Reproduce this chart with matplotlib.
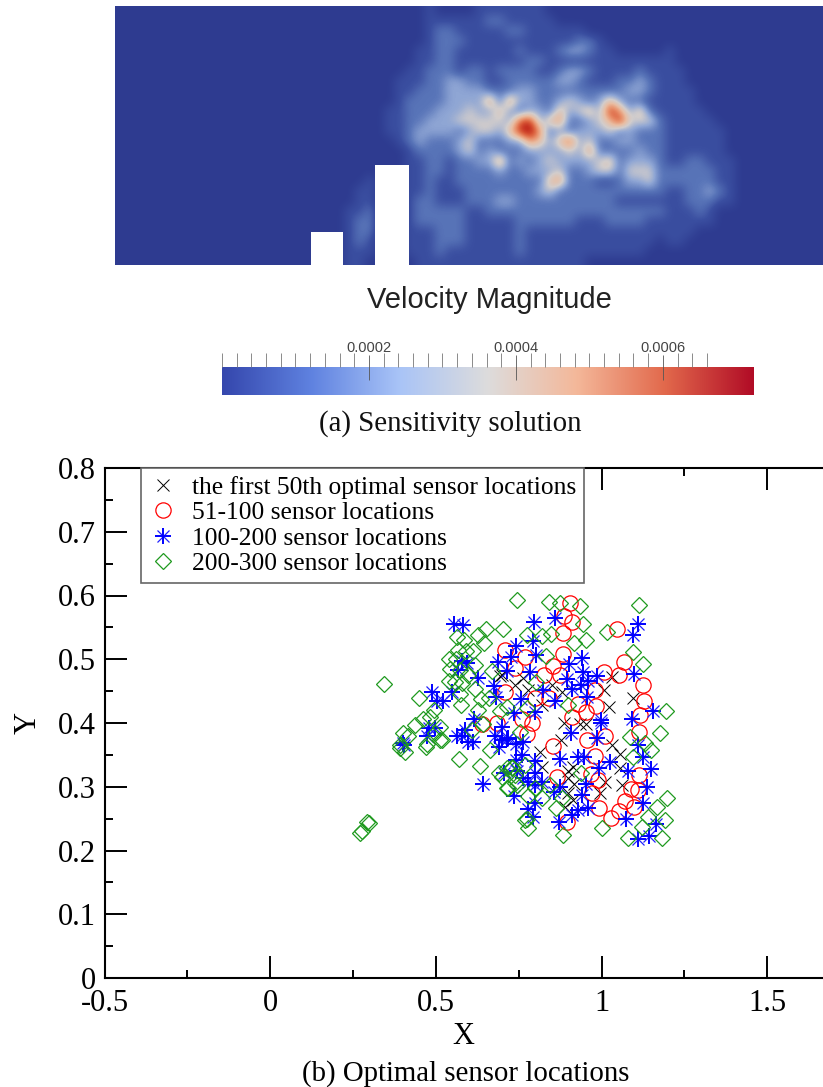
import matplotlib
matplotlib.use('Agg')
import matplotlib.pyplot as plt
import numpy as np
from matplotlib.colors import LinearSegmentedColormap
from matplotlib.legend_handler import HandlerTuple
from matplotlib.patches import Rectangle

plt.rcParams['font.family'] = ['Liberation Serif', 'DejaVu Serif']

# Sensitivity field on a 10 px grid (0 = background, 9 = peak).
# Rows run top to bottom, each string covers the part of the channel where something happens.
fieldRows = [
    "000000001 00001111111000000000000 0000000000",
    "000000001 11111221111100000000000 0000000000",
    "000000001 22111112211111100000000 0000000000",
    "000000001 22211111111111221000000 0000000000",
    "000000011 22111111211123321100000 1000000000",
    "000000011 22111111122111111111111 1000000000",
    "000000112 22122122221123321111211 1100000000",
    "000001112 23322112222233211122321 1100000000",
    "000001122 23333222332222222223321 1110000000",
    "000001222 23333626332234323532211 1110000000",
    "000011222 33343353233253453863521 1111000000",
    "000011223 33444443783562234584442 1111100000",
    "000011233 33234435896232333423222 1111110000",
    "000001232 22342223365357342233222 1111110000",
    "000000122 22342322233334362222322 1111110000",
    "000000112 21223362323433334523332 1122111000",
    "000000112 21222232233342234424442 2222211000",
    "001000112 11222222222562221123342 2222211000",
    "011000112 11122222223422222222222 1122321000",
    "011000122 11122233222222222211111 1122211000",
    "112000122 22211222222222222222222 1112100000",
    "122000122 22211111222222111222211 1111100000",
    "122000111 22211111211111111111111 1110000000",
    "121000111 22211111211111111111110 1100000000",
    "111000111 21111111211111111111100 0000000000",
    "110000011 11111111111111100000000 0000000000",
]
fieldPeak = 0.00072

# Colorbar ticks
barMajor = [0.0002, 0.0004, 0.0006]
barMinor = [i*0.00002 for i in range(34)]
barLabels = ['0.0002', '0.0004', '0.0006']

# Sensor locations
xFirst = [1.031,0.764,0.739,0.779,0.850,0.880,1.008,1.096,1.021,0.820,0.699,0.888,0.935,1.031,0.878,
          0.814,1.056,0.820,1.054,0.915,0.900,0.900,0.917,1.011,1.061,0.995,0.900,0.915,0.890,0.953,0.694]
yFirst = [0.472,0.470,0.460,0.452,0.460,0.449,0.452,0.439,0.425,0.428,0.475,0.400,0.398,0.365,0.374,
          0.355,0.351,0.331,0.329,0.331,0.324,0.313,0.304,0.308,0.303,0.290,0.290,0.279,0.269,0.398,0.474]

xCircle = [0.905,0.887,0.912,0.883,1.046,0.709,0.769,0.882,0.739,0.853,1.069,1.051,1.008,0.827,0.873,
           1.126,0.979,0.709,1.128,0.799,0.840,0.930,0.983,0.953,0.910,1.116,0.774,0.789,0.759,1.114,
           1.011,0.957,0.853,0.979,0.865,0.967,1.113,0.990,1.089,1.111,0.970,1.071,1.098,0.993,1.051,
           1.028,0.895,0.638,0.684]
yCircle = [0.588,0.568,0.559,0.541,0.547,0.514,0.504,0.508,0.487,0.490,0.496,0.475,0.480,0.476,0.476,
           0.460,0.452,0.449,0.435,0.439,0.439,0.430,0.427,0.418,0.410,0.413,0.382,0.400,0.407,0.386,
           0.380,0.373,0.364,0.349,0.316,0.320,0.318,0.310,0.296,0.295,0.290,0.277,0.269,0.266,0.262,
           0.251,0.245,0.398,0.400]

xStar = [0.796,0.860,1.109,1.096,0.794,0.742,0.727,0.802,0.940,0.903,0.716,0.784,0.945,1.099,0.987,
         0.895,0.960,0.938,0.910,0.823,0.957,0.756,0.860,1.154,0.799,0.736,1.091,0.998,0.998,0.907,
         0.985,0.699,0.699,0.719,0.742,0.764,1.111,0.759,0.741,0.799,0.873,0.930,0.948,1.024,1.124,
         0.993,1.081,1.149,0.704,0.744,0.799,0.764,0.779,0.820,0.799,0.953,1.138,0.875,0.855,0.940,
         0.737,0.799,1.126,0.779,0.960,0.930,0.910,0.794,1.074,0.872,1.163,1.143,1.109,0.643,0.402,
         0.405,0.478,0.496,0.473,0.563,0.588,0.578,0.616,0.596,0.613,0.679,0.714,0.689,0.555,0.581,
         0.578,0.593,0.568,0.627,0.688,0.676,0.682,0.489,0.549,0.503,0.521]
yStar = [0.558,0.565,0.555,0.538,0.529,0.521,0.503,0.507,0.502,0.493,0.482,0.480,0.480,0.477,0.473,
         0.469,0.466,0.459,0.453,0.452,0.441,0.437,0.435,0.419,0.418,0.416,0.407,0.405,0.400,0.384,
         0.376,0.393,0.373,0.376,0.367,0.370,0.365,0.350,0.342,0.341,0.344,0.346,0.347,0.339,0.347,
         0.329,0.324,0.328,0.321,0.324,0.321,0.313,0.308,0.308,0.303,0.304,0.299,0.299,0.291,0.287,
         0.285,0.275,0.275,0.265,0.266,0.264,0.256,0.252,0.250,0.245,0.241,0.223,0.218,0.304,0.368,
         0.366,0.392,0.392,0.380,0.379,0.389,0.379,0.406,0.370,0.370,0.380,0.375,0.363,0.555,0.554,
         0.498,0.494,0.483,0.471,0.496,0.458,0.441,0.449,0.449,0.435,0.435]

xDiamond = [0.651,0.701,0.626,0.563,0.585,0.646,0.568,0.591,0.613,0.538,0.560,0.618,0.544,0.573,0.669,
            0.598,0.538,0.558,0.578,0.344,0.618,0.449,0.573,0.636,0.659,0.575,0.626,0.495,0.692,0.462,
            0.483,0.437,0.513,0.402,0.417,0.498,0.518,0.473,0.392,0.643,0.608,0.407,0.392,0.513,0.470,
            0.571,0.633,0.664,0.689,0.716,0.729,0.739,0.271,0.276,0.292,0.297,0.769,0.746,0.842,0.875,
            0.935,1.114,0.943,0.774,0.820,0.848,1.016,0.917,0.952,1.096,1.126,0.832,0.802,1.194,0.900,
            0.716,0.774,1.176,1.086,1.131,1.149,1.096,0.937,0.754,0.729,0.769,0.719,0.744,0.779,0.799,
            0.820,0.880,0.863,0.774,0.779,0.883,1.002,1.196,1.168,1.141,1.192,1.121,1.081,1.182,0.739,
            0.699,0.714,0.845]
yDiamond = [0.547,0.547,0.538,0.535,0.530,0.525,0.514,0.513,0.513,0.500,0.500,0.491,0.485,0.483,0.482,
            0.475,0.466,0.465,0.462,0.461,0.454,0.440,0.445,0.438,0.440,0.428,0.421,0.421,0.419,0.406,
            0.409,0.397,0.393,0.385,0.379,0.384,0.373,0.367,0.365,0.398,0.389,0.355,0.361,0.374,0.363,
            0.344,0.333,0.357,0.321,0.298,0.329,0.306,0.228,0.231,0.244,0.243,0.248,0.593,0.590,0.589,
            0.584,0.585,0.555,0.538,0.536,0.539,0.542,0.525,0.530,0.512,0.492,0.505,0.465,0.419,0.429,
            0.425,0.423,0.385,0.378,0.368,0.358,0.347,0.321,0.386,0.331,0.334,0.298,0.303,0.285,0.298,
            0.283,0.283,0.266,0.250,0.236,0.225,0.236,0.282,0.268,0.253,0.248,0.237,0.220,0.219,0.318,
            0.316,0.329,0.303]

xTicks = [-0.5, 0, 0.5, 1, 1.5]
xTickLabels = ['-0.5', '0', '0.5', '1', '1.5']
xMinor = [-0.25, 0.25, 0.75, 1.25]
yTicks = [0, 0.1, 0.2, 0.3, 0.4, 0.5, 0.6, 0.7, 0.8]
yTickLabels = ['0', '0.1', '0.2', '0.3', '0.4', '0.5', '0.6', '0.7', '0.8']
yMinor = [0.05, 0.15, 0.25, 0.35, 0.45, 0.55, 0.65, 0.75]

W, H = 823, 1087
fig = plt.figure(figsize=(W/100, H/100), dpi=100)

def addAxes(left, top, right, bottom):
    # positions given in pixels of the picture
    return fig.add_axes([left/W, 1-bottom/H, (right-left)/W, (bottom-top)/H])

# (a) field
fieldCmap = LinearSegmentedColormap.from_list('field', ['#2e3b90', '#3a4ea0', '#5874b8', '#8fa6d4', '#d2cdcc',
                                                        '#e9bda2', '#e8916c', '#da5c3a', '#c22a1c', '#86090e'])
aField = np.array([[int(c) for c in row.replace(' ', '').rjust(65, '0').ljust(71, '0')] for row in fieldRows])
aField = aField / 9.0 * fieldPeak
axF = addAxes(115, 6, 823, 265)
axF.imshow(aField, cmap=fieldCmap, vmin=0, vmax=fieldPeak, aspect='auto', interpolation='bicubic',
           extent=(115, 825, 266, 6))
axF.add_patch(Rectangle((311, 232), 32, 34, fc='w', ec='none'))
axF.add_patch(Rectangle((375, 165), 34, 101, fc='w', ec='none'))
axF.set_xlim(115, 823)
axF.set_ylim(265, 6)
axF.axis('off')

fig.text(489.5/W, 1-300/H, 'Velocity Magnitude', family='Liberation Sans', fontsize=21, color='#222222',
         ha='center', va='center')

# colorbar
barCmap = LinearSegmentedColormap.from_list('bar', ['#3547ad', '#5f82e0', '#a9c4f7', '#dddcdc', '#f4b89a',
                                                    '#e2694c', '#b10c26'])
axB = addAxes(222, 367, 754, 395)
axB.imshow(np.linspace(0, 1, 256).reshape(1, -1), cmap=barCmap, aspect='auto', extent=(0, 0.000724, 0, 1))
axB.set_xlim(0, 0.000724)
axB.set_yticks([])
axB.set_xticks(barMajor)
axB.set_xticklabels(barLabels, fontsize=10.5, family='Liberation Sans', color='#444444')
axB.set_xticks(barMinor, minor=True)
axB.xaxis.tick_top()
axB.tick_params(axis='x', which='major', direction='inout', length=18, width=0.6, color='#555555', pad=0)
axB.tick_params(axis='x', which='minor', direction='out', length=10, width=0.6, color='#777777')
for s in axB.spines.values():
    s.set_visible(False)

fig.text(450.5/W, 1-424/H, '(a) Sensitivity solution', fontsize=20.8, ha='center', va='center', color='#111111')

# (b) sensors
ax = addAxes(104.5, 468, 823, 978)
ax.plot(xFirst, yFirst, ls='none', marker='x', ms=8, mew=0.7, color='k',
        label='the first 50th optimal sensor locations')
ax.plot(xCircle, yCircle, ls='none', marker='o', ms=11, mew=0.9, mfc='none', color='r',
        label='51-100 sensor locations')
lineCross, = ax.plot(xStar, yStar, ls='none', marker='x', ms=8, mew=0.9, color='#2222ff')
linePlus, = ax.plot(xStar, yStar, ls='none', marker='+', ms=11.5, mew=1.4, color='b')
ax.plot(xDiamond, yDiamond, ls='none', marker='D', ms=7.8, mew=0.9, mfc='none', color='#1f9a1f',
        label='200-300 sensor locations')
ax.set_xlim(-0.5, 1.668)
ax.set_ylim(0, 0.8)
ax.set_xticks(xTicks)
ax.set_xticklabels(xTickLabels)
ax.set_xticks(xMinor, minor=True)
ax.set_yticks(yTicks)
ax.set_yticklabels(yTickLabels)
ax.set_yticks(yMinor, minor=True)
ax.tick_params(which='major', direction='in', length=16, width=1.4, labelsize=22, top=True, right=False, pad=6)
ax.tick_params(which='minor', direction='in', length=6, width=1.4, top=True, right=False)
ax.tick_params(axis='x', which='major', pad=8)
ax.spines['right'].set_visible(False)
for side in ['left', 'top', 'bottom']:
    ax.spines[side].set_linewidth(1.5)
ax.set_xlabel('X', fontsize=22, labelpad=3)
ax.set_ylabel('Y', fontsize=22, labelpad=11)

hLines, hLabels = ax.get_legend_handles_labels()
hLines.insert(2, (lineCross, linePlus))
hLabels.insert(2, '100-200 sensor locations')
leg = ax.legend(hLines, hLabels, loc='upper left', bbox_to_anchor=((141-104.5)/(W-104.5), 1.0), borderaxespad=0,
                numpoints=1, fontsize=18.4, fancybox=False, framealpha=1, edgecolor='#666666', labelspacing=0.1,
                handlelength=1.13, handletextpad=0.57, borderpad=0.3,
                handler_map={tuple: HandlerTuple(ndivide=1, pad=0)})
leg.get_frame().set_linewidth(1.2)

fig.text(465.5/W, 1-1074/H, '(b) Optimal sensor locations', fontsize=20.8, ha='center', va='center')

fig.savefig('out.png', dpi=100)
